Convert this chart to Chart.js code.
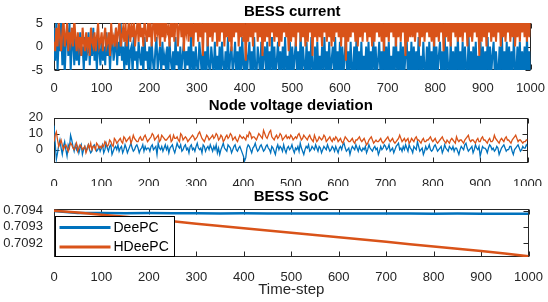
<!DOCTYPE html>
<html><head><meta charset="utf-8">
<script src="https://cdn.jsdelivr.net/npm/chart.js@4.4.1/dist/chart.umd.min.js"></script>
<style>
html,body{margin:0;padding:0;background:#fff;}
#wrap{position:relative;width:548px;height:302px;overflow:hidden;background:#fff;}
canvas{position:absolute;left:0;}
</style></head><body>
<div id="wrap">
<canvas id="c1" width="548" height="92" style="top:0px;width:548px;height:92px"></canvas>
<canvas id="c2" width="548" height="94" style="top:92px;width:548px;height:94px"></canvas>
<canvas id="c3" width="548" height="116" style="top:186px;width:548px;height:116px"></canvas>
</div>
<script>
// ---------- data ----------
const seriesNames = ['DeePC', 'HDeePC'];
const plotTitles = ['BESS current', 'Node voltage deviation', 'BESS SoC'];
const xLabel = 'Time-step';
const xTicks = [0, 100, 200, 300, 400, 500, 600, 700, 800, 900, 1000];
const currentTicks = [-5, 0, 5];
const voltageTicks = [0, 10, 20];
const socTicks = [0.7092, 0.7093, 0.7094];
const currentStep = 2.5; // time-steps between stored current samples
const voltageStep = 2.5; // time-steps between stored voltage samples
const socStep = 50;      // time-steps between stored SoC samples

const currentDeePC = [
 4,-3,6,-5,2,-1,5,-4,3,-6,1,4,-2,5,-5,0,3,-4,2,-3,
 1,-4,3,-2,0,-5,2,-3,-1,3,-4,1,-2,4,-3,0,-5,2,-1,-4,
 2,-3,0,-4,3,-2,1,-5,0,2,-3,-1,4,-4,1,-2,5,-3,0,-5,
 1,-4,3,-5,-1,0,-6,2,-3,-1,-5,1,-2,-4,0,-6,2,-3,-1,-5,
 0,-5,1,-3,-6,-1,2,-5,-2,0,-6,1,-4,-2,-5,0,-6,1,-3,-5,
 -1,-6,2,-4,-1,-6,0,-5,-2,1,-6,-1,-4,0,-6,2,-5,-1,-6,0,
 -4,-6,1,-2,-6,0,-5,-1,-6,2,-4,-6,0,-3,-6,1,-5,-2,-6,0,
 -6,1,-4,-6,-1,-5,2,-6,-2,0,-6,-3,1,-6,-1,-5,0,-6,2,-4,
 -6,0,-6,-2,1,-6,-1,-6,2,-5,-6,0,-3,-6,1,-6,-2,0,-6,1,
 -6,-1,-5,2,-6,0,-6,-3,1,-6,-1,-6,0,-5,2,-6,-2,-6,1,-6,
 0,-6,-2,1,-6,-1,-6,3,-6,0,-4,-6,1,-6,-1,-6,2,-5,-6,0,
 -6,1,-6,-2,-6,0,-5,2,-6,-1,-6,1,-6,-3,0,-6,2,-6,-1,-6,
 1,-6,0,-6,-2,2,-6,-1,-6,1,-5,-6,0,-6,3,-6,-1,-6,1,-6,
 -2,-6,0,-6,1,-6,-1,-5,2,-6,0,-6,-3,1,-6,-1,-6,2,-6,0,
 -6,1,-6,-2,-6,0,-6,2,-5,-1,-6,1,-6,0,-6,-2,2,-6,-1,-6,
 1,-6,0,-6,-1,-6,2,-6,-2,-6,1,-5,-6,0,-6,1,-6,-1,-6,2,
 -6,0,-6,-2,1,-6,-1,-6,2,-6,0,-5,-6,1,-6,-1,-6,0,-6,2,
 -6,-1,-6,1,-6,0,-5,-6,2,-6,-1,-6,0,-6,1,-6,-2,-6,1,-6,
 0,-6,-1,-6,2,-6,0,-6,-2,1,-6,-1,-5,-6,0,-6,2,-6,-1,-6,
 1,-6,0,-6,-1,-6,2,-5,-6,0,-6,1,-6,-1,-6,0,-6,2,-6,-1,
 -6];
const currentHDeePC = [
 1,-1,4,0,5,2,-1,3,6,0,2,5,-1,3,1,4,0,6,2,-1,
 3,0,2,-2,4,1,-1,3,0,2,-2,4,1,0,3,-1,2,5,0,1,
 3,-1,2,4,0,1,3,-2,5,1,2,0,4,1,3,6,0,2,4,1,
 5,0,3,6,1,4,2,6,0,3,5,1,6,2,4,0,6,3,1,5,
 2,6,0,4,7,1,5,3,6,0,6,2,5,1,7,3,4,0,6,2,
 6,1,5,7,0,4,6,2,7,-1,5,3,6,1,7,2,5,0,6,3,
 7,1,6,2,5,-2,7,3,6,0,6,2,7,1,5,3,7,0,6,1,
 6,3,7,0,5,2,7,1,6,-1,7,2,5,3,7,0,6,2,7,1,
 5,-3,7,1,6,2,7,0,6,3,7,1,5,2,7,-2,6,1,7,2,
 6,0,7,3,5,1,7,2,6,0,7,1,6,3,7,2,5,-1,7,1,
 6,2,7,0,6,3,7,1,5,2,7,0,6,1,7,3,6,-2,7,2,
 6,1,7,2,5,0,7,3,6,1,7,2,6,0,7,1,5,3,7,2,
 6,0,7,2,6,-3,7,1,5,2,7,3,6,1,7,0,6,2,7,1,
 6,3,7,1,5,2,7,0,6,1,7,3,6,2,7,1,5,-1,7,2,
 6,1,7,3,6,2,7,0,5,2,7,1,6,3,7,-2,6,1,7,2,
 6,2,7,1,5,3,7,0,6,2,7,1,6,3,7,2,5,1,7,0,
 6,2,7,1,6,3,7,-1,5,2,7,1,6,0,7,3,6,2,7,1,
 5,2,7,1,6,3,7,0,6,2,7,1,5,3,7,2,6,-2,7,1,
 6,2,7,0,5,3,7,1,6,2,7,1,6,3,7,0,5,2,7,1,
 6,3,7,1,6,2,7,0,5,2,7,1,6,3,7,2,6,1,7,2,
 6];
const voltageDeePC = [
 15,4,-6,-2,3,6,1,-3,2,5,0,-4,3,1,9,6,2,-1,3,0,
 2,-2,1,3,-3,0,2,-1,1,3,0,-2,-1,2,3,1,-1,0,2,-1,
 1,3,-2,0,4,1,-1,2,3,-3,-1,1,2,0,3,-1,1,2,-2,0,
 3,1,-2,0,2,4,1,-1,0,2,3,1,-2,0,1,3,-1,2,0,1,
 1,-1,2,3,0,1,2,-3,4,1,0,2,-1,1,3,0,2,-2,1,2,
 3,0,-2,1,4,2,1,3,-1,0,2,3,0,1,-2,2,3,0,1,-1,
 2,4,1,0,1,-2,3,2,-1,1,2,0,3,1,-1,2,0,3,-2,1,
 -3,0,2,4,1,0,-1,3,2,1,-2,0,2,3,0,-1,1,2,0,-2,
 -4,-7,-5,1,3,2,0,-2,1,2,4,1,-1,0,2,3,1,-1,0,2,
 3,1,0,-2,2,1,-1,-3,1,3,0,2,1,-1,3,0,-2,1,2,0,
 1,3,0,-2,1,0,2,-1,4,1,-1,-3,0,2,1,3,-1,0,2,1,
 0,3,1,-1,2,1,-2,0,2,1,0,3,1,-1,0,2,1,-1,2,0,
 -2,1,2,0,3,4,1,-1,0,1,-3,0,2,1,0,3,1,-1,2,0,
 -1,1,0,2,-2,0,3,1,0,-1,1,2,0,1,-3,-1,2,0,1,3,
 2,0,1,3,-1,0,1,-2,0,2,3,4,0,1,-1,2,0,3,1,-1,
 3,1,0,-2,2,1,0,5,2,-1,0,1,-3,-1,2,0,1,3,0,-1,
 0,2,3,1,-1,0,1,2,-2,0,3,1,0,-1,2,1,0,2,-1,1,
 1,-1,-3,0,2,1,0,3,4,1,-1,0,1,2,-2,0,3,1,0,2,
 -4,-1,2,1,1,0,-2,1,3,2,0,1,-1,0,2,1,-3,-1,1,2,
 3,1,-1,0,0,2,2,-1,-3,0,1,2,3,1,-1,0,2,1,1,3,
 2];
const voltageHDeePC = [
 5,9,11,6,2,4,6,3,0,2,3,1,-1,2,4,3,1,0,2,4,
 -1,1,3,2,0,1,2,-2,0,3,1,4,0,2,2,0,4,3,1,2,
 1,3,2,5,4,2,3,6,5,3,2,7,6,4,5,6,7,5,4,8,
 7,5,6,7,8,4,6,9,7,6,5,5,7,8,6,6,8,9,7,5,
 6,7,8,10,9,6,7,8,9,5,6,9,8,7,6,6,7,8,9,5,
 6,9,7,7,8,6,5,10,9,6,7,8,7,5,6,7,8,9,8,6,
 7,8,10,11,9,7,6,5,7,9,8,6,7,8,9,7,8,10,9,6,
 7,9,8,5,6,8,9,7,8,10,9,6,7,8,6,5,7,9,8,7,
 8,7,6,9,8,11,10,7,8,8,7,6,8,10,9,8,7,12,10,8,
 7,9,11,12,8,7,6,8,9,7,8,10,9,6,7,8,9,7,8,7,
 9,8,6,7,8,7,9,10,8,6,7,9,8,7,6,8,9,7,6,5,
 9,7,5,6,8,7,6,7,9,8,5,6,7,8,6,5,7,6,8,7,
 5,6,7,5,4,6,8,7,6,5,5,6,7,5,4,6,6,7,8,6,
 5,6,7,5,3,4,6,7,8,6,4,5,6,5,5,6,7,5,4,5,
 6,7,8,6,5,6,7,5,4,5,6,7,9,7,5,6,7,5,6,7,
 4,5,7,6,5,7,8,6,6,5,4,6,7,5,5,6,6,7,8,6,
 5,6,7,5,4,5,6,7,8,6,5,4,6,5,4,6,7,6,5,4,
 8,6,5,6,6,5,4,6,7,8,9,6,5,6,6,5,4,6,7,5,
 5,7,8,6,6,5,4,6,7,5,5,6,9,7,6,5,4,6,7,6,
 5,7,8,6,6,5,4,6,7,8,9,7,5,6,6,5,4,5,5,6,
 6];
const socDeePC = [0.709398,0.709386,0.709385,0.709384,0.709385,0.709384,0.709384,0.709383,0.709384,0.709383,
 0.709383,0.709382,0.709383,0.709382,0.709382,0.709382,0.709381,0.709382,0.709381,0.709381,0.709381];
const socHDeePC = [0.709399,0.709388,0.709375,0.709362,0.709348,0.709334,0.709320,0.709306,0.709292,0.709278,
 0.709264,0.709250,0.709236,0.709222,0.709208,0.709194,0.709180,0.709166,0.709152,0.709136,0.709119];

// ---------- styling ----------
const BLUE = '#0072BD', ORANGE = '#D95319', AXIS = '#262626';
const FONT = '"Liberation Sans", Arial, Helvetica, sans-serif';
Chart.defaults.font.family = FONT;
Chart.defaults.color = AXIS;

const toPts = (vals, step) => vals.map((v, i) => ({x: i * step, y: v}));

const matlabAxes = {
  id: 'matlabAxes',
  beforeDatasetsDraw(chart, args, opts) {
    const {ctx, chartArea: a, scales: {x, y}} = chart;
    ctx.save();
    ctx.strokeStyle = AXIS; ctx.lineWidth = 1;
    const L = Math.round(a.left) + 0.5, R = Math.round(a.right) - 0.5;
    const T = Math.round(a.top) + 0.5, B = Math.round(a.bottom) - 0.5;
    ctx.strokeRect(L, T, R - L, B - T);
    const tl = 5;
    ctx.beginPath();
    x.ticks.forEach(t => {
      const px = Math.round(x.getPixelForValue(t.value)) + 0.5;
      ctx.moveTo(px, B); ctx.lineTo(px, B - tl);
      ctx.moveTo(px, T); ctx.lineTo(px, T + tl);
    });
    y.ticks.forEach(t => {
      const py = Math.round(y.getPixelForValue(t.value)) + 0.5;
      ctx.moveTo(L, py); ctx.lineTo(L + tl, py);
      ctx.moveTo(R, py); ctx.lineTo(R - tl, py);
    });
    ctx.stroke();
    ctx.restore();
  },
  afterDraw(chart, args, opts) {
    const {ctx, chartArea: a} = chart;
    ctx.save();
    ctx.font = 'bold 15px ' + FONT;
    ctx.fillStyle = '#000'; ctx.textAlign = 'center'; ctx.textBaseline = 'middle';
    ctx.fillText(opts.title, (a.left + a.right) / 2, a.top - opts.titleOffset);
    if (opts.legend) {
      const bx = Math.round(a.left) + 1.5, bw = 119, bh = 40;
      const by = Math.round(a.bottom) - bh - 0.5;
      ctx.fillStyle = '#fff';
      ctx.fillRect(bx, by, bw, bh);
      ctx.strokeStyle = '#000'; ctx.lineWidth = 1;
      ctx.strokeRect(bx, by, bw, bh);
      ctx.font = '14px ' + FONT;
      ctx.textAlign = 'left';
      chart.data.datasets.forEach((d, i) => {
        const yy = by + 11 + i * 19.5;
        ctx.strokeStyle = d.borderColor; ctx.lineWidth = 3;
        ctx.beginPath(); ctx.moveTo(bx + 4, yy); ctx.lineTo(bx + 55, yy); ctx.stroke();
        ctx.fillStyle = '#000';
        ctx.fillText(d.label, bx + 58, yy + 0.5);
      });
    }
    ctx.restore();
  }
};

function xScaleCfg(height, labelPad, withTitle) {
  return {
    type: 'linear', min: 0, max: 1000,
    grid: {display: false}, border: {display: false},
    afterBuildTicks: s => { s.ticks = xTicks.map(v => ({value: v})); },
    ticks: {padding: labelPad, color: AXIS, font: {size: 13}, maxRotation: 0, autoSkip: false,
            callback: v => String(v)},
    afterFit: s => { s.height = height; },
    title: withTitle ? {display: true, text: xLabel, color: AXIS, font: {size: 15}, padding: {top: 0, bottom: 3}}
                     : {display: false}
  };
}
function yScaleCfg(min, max, ticks, fmt) {
  return {
    type: 'linear', min, max,
    grid: {display: false}, border: {display: false},
    afterBuildTicks: s => { s.ticks = ticks.map(v => ({value: v})); },
    ticks: {padding: 3, color: AXIS, font: {size: 13}, autoSkip: false, callback: fmt},
    afterFit: s => { s.width = 54; }
  };
}
function makeChart(id, blueVals, orangeVals, step, lw, ycfg, xcfg, topPad, titleText, titleOffset, legend) {
  return new Chart(document.getElementById(id), {
    type: 'line',
    data: {
      datasets: [
        {label: seriesNames[0], data: toPts(blueVals, step), borderColor: BLUE, borderWidth: lw,
         pointRadius: 0, tension: 0, order: 2, clip: 0},
        {label: seriesNames[1], data: toPts(orangeVals, step), borderColor: ORANGE, borderWidth: lw,
         pointRadius: 0, tension: 0, order: 1, clip: 0}
      ]
    },
    options: {
      responsive: false, animation: false, devicePixelRatio: 1,
      layout: {padding: {top: topPad, right: 15, left: 0, bottom: 0}},
      scales: {x: xcfg, y: ycfg},
      plugins: {
        legend: {display: false}, tooltip: {enabled: false}, title: {display: false},
        matlabAxes: {title: titleText, titleOffset, legend}
      }
    },
    plugins: [matlabAxes]
  });
}

makeChart('c1', currentDeePC, currentHDeePC, currentStep, 2,
  yScaleCfg(-5, 5, currentTicks, v => String(v)), xScaleCfg(22, 3, false),
  23, plotTitles[0], 11.5, false);
makeChart('c2', voltageDeePC, voltageHDeePC, voltageStep, 1.3,
  yScaleCfg(-8, 20, voltageTicks, v => String(v)), xScaleCfg(23.5, 6, false),
  25.5, plotTitles[1], 12, false);
makeChart('c3', socDeePC, socHDeePC, socStep, 2.5,
  yScaleCfg(0.709115, 0.70941, socTicks, v => Number(v).toFixed(4)), xScaleCfg(45, 5, true),
  23, plotTitles[2], 12, true);
</script>
</body></html>
